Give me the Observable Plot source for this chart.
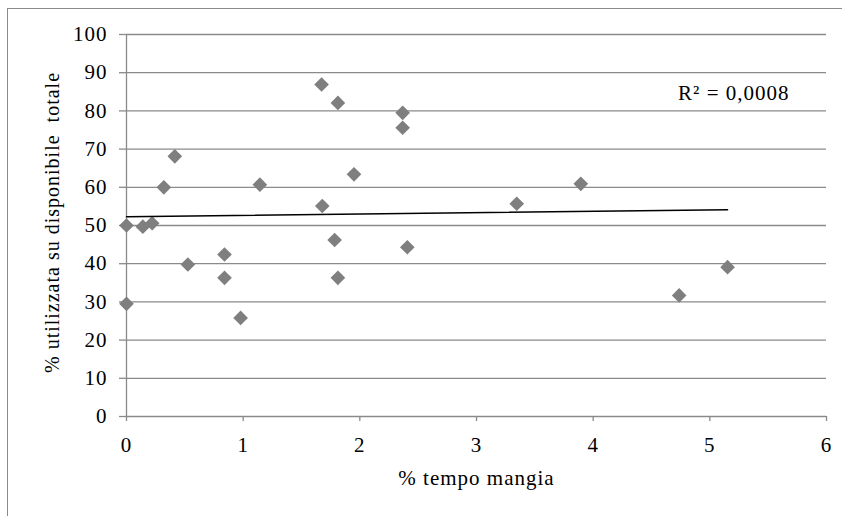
<!DOCTYPE html>
<html>
<head>
<meta charset="utf-8">
<script src="https://cdn.jsdelivr.net/npm/d3@7"></script>
<script src="https://cdn.jsdelivr.net/npm/@observablehq/plot@0.6"></script>
<style>
  body { margin: 0; background: #fff; }
  #chart { position: relative; width: 842px; height: 516px; overflow: hidden; background: #fff; }
  #chart svg { display: block; }
  #chart svg text { white-space: pre; }
  #chart .border {
    position: absolute; left: 7px; top: 8px; right: -4px; bottom: -4px;
    border-left: 1px solid #8a8a8a; border-top: 1px solid #8a8a8a;
    pointer-events: none;
  }
</style>
</head>
<body>
<div id="chart"></div>
<script>
// % of time spent eating vs % of available used, one value per subject
const tempoMangia = [0, 0, 0.14, 0.22, 0.32, 0.414, 0.526, 0.84, 0.84, 0.978, 1.143, 1.672,
                     1.812, 1.678, 1.784, 1.812, 1.95, 2.367, 2.367, 2.407, 3.345, 3.894, 4.737, 5.152];
const utilizzata  = [50, 29.5, 49.7, 50.6, 60.0, 68.1, 39.8, 42.4, 36.3, 25.8, 60.7, 86.9,
                     82.1, 55.1, 46.2, 36.3, 63.4, 79.5, 75.6, 44.3, 55.7, 60.9, 31.7, 39.1];

const xTicks = [0, 1, 2, 3, 4, 5, 6];
const yTicks = [0, 10, 20, 30, 40, 50, 60, 70, 80, 90, 100];

const xLabel = "% tempo mangia";
const yLabel = "% utilizzata su disponibile  totale";
const rSquaredLabel = "R² = 0,0008";

const points = tempoMangia.map((x, i) => ({x, y: utilizzata[i]}));
const gridColor = "#8a8a8a";
const serif = "Liberation Serif, Times New Roman, serif";

const chart = Plot.plot({
  width: 842,
  height: 516,
  marginLeft: 126,
  marginRight: 16,
  marginTop: 34,
  marginBottom: 100,
  style: {
    fontFamily: serif,
    fontSize: "21px",
    letterSpacing: "1px",
    color: "#000",
    background: "transparent"
  },
  x: {domain: [0, 6]},
  y: {domain: [0, 100]},
  marks: [
    // horizontal gridlines (the one at 0 doubles as the x axis line)
    Plot.ruleY(yTicks, {stroke: gridColor, strokeWidth: 1.3}),
    // vertical axis line
    Plot.ruleX([0], {stroke: gridColor, strokeWidth: 1.3}),
    Plot.axisY({ticks: yTicks, tickFormat: d => String(d), tickSize: 7, tickPadding: 12, stroke: gridColor, strokeWidth: 1.3, label: null}),
    Plot.axisX({ticks: xTicks, tickFormat: d => String(d), tickSize: 5, tickPadding: 16, stroke: gridColor, strokeWidth: 1.3, label: null}),
    Plot.dot(points, {x: "x", y: "y", symbol: "diamond2", r: 6.6, fill: "#7f7f7f"}),
    // linear trend line over the observed range
    Plot.linearRegressionY(points, {x: "x", y: "y", ci: 0, stroke: "#000", strokeWidth: 1.5}),
    Plot.text([rSquaredLabel], {text: d => d, frameAnchor: "top-right", textAnchor: "end", lineAnchor: "middle", dx: -37, dy: 59}),
    Plot.text([xLabel], {text: d => d, frameAnchor: "bottom", textAnchor: "middle", lineAnchor: "middle", dy: 62, letterSpacing: "1.3px"}),
    Plot.text([yLabel], {text: d => d, frameAnchor: "left", textAnchor: "middle", lineAnchor: "middle", rotate: -90, dx: -74, dy: -3, fontSize: 20})
  ]
});

const host = document.getElementById("chart");
host.appendChild(chart);
const border = document.createElement("div");
border.className = "border";
host.appendChild(border);
</script>
</body>
</html>
